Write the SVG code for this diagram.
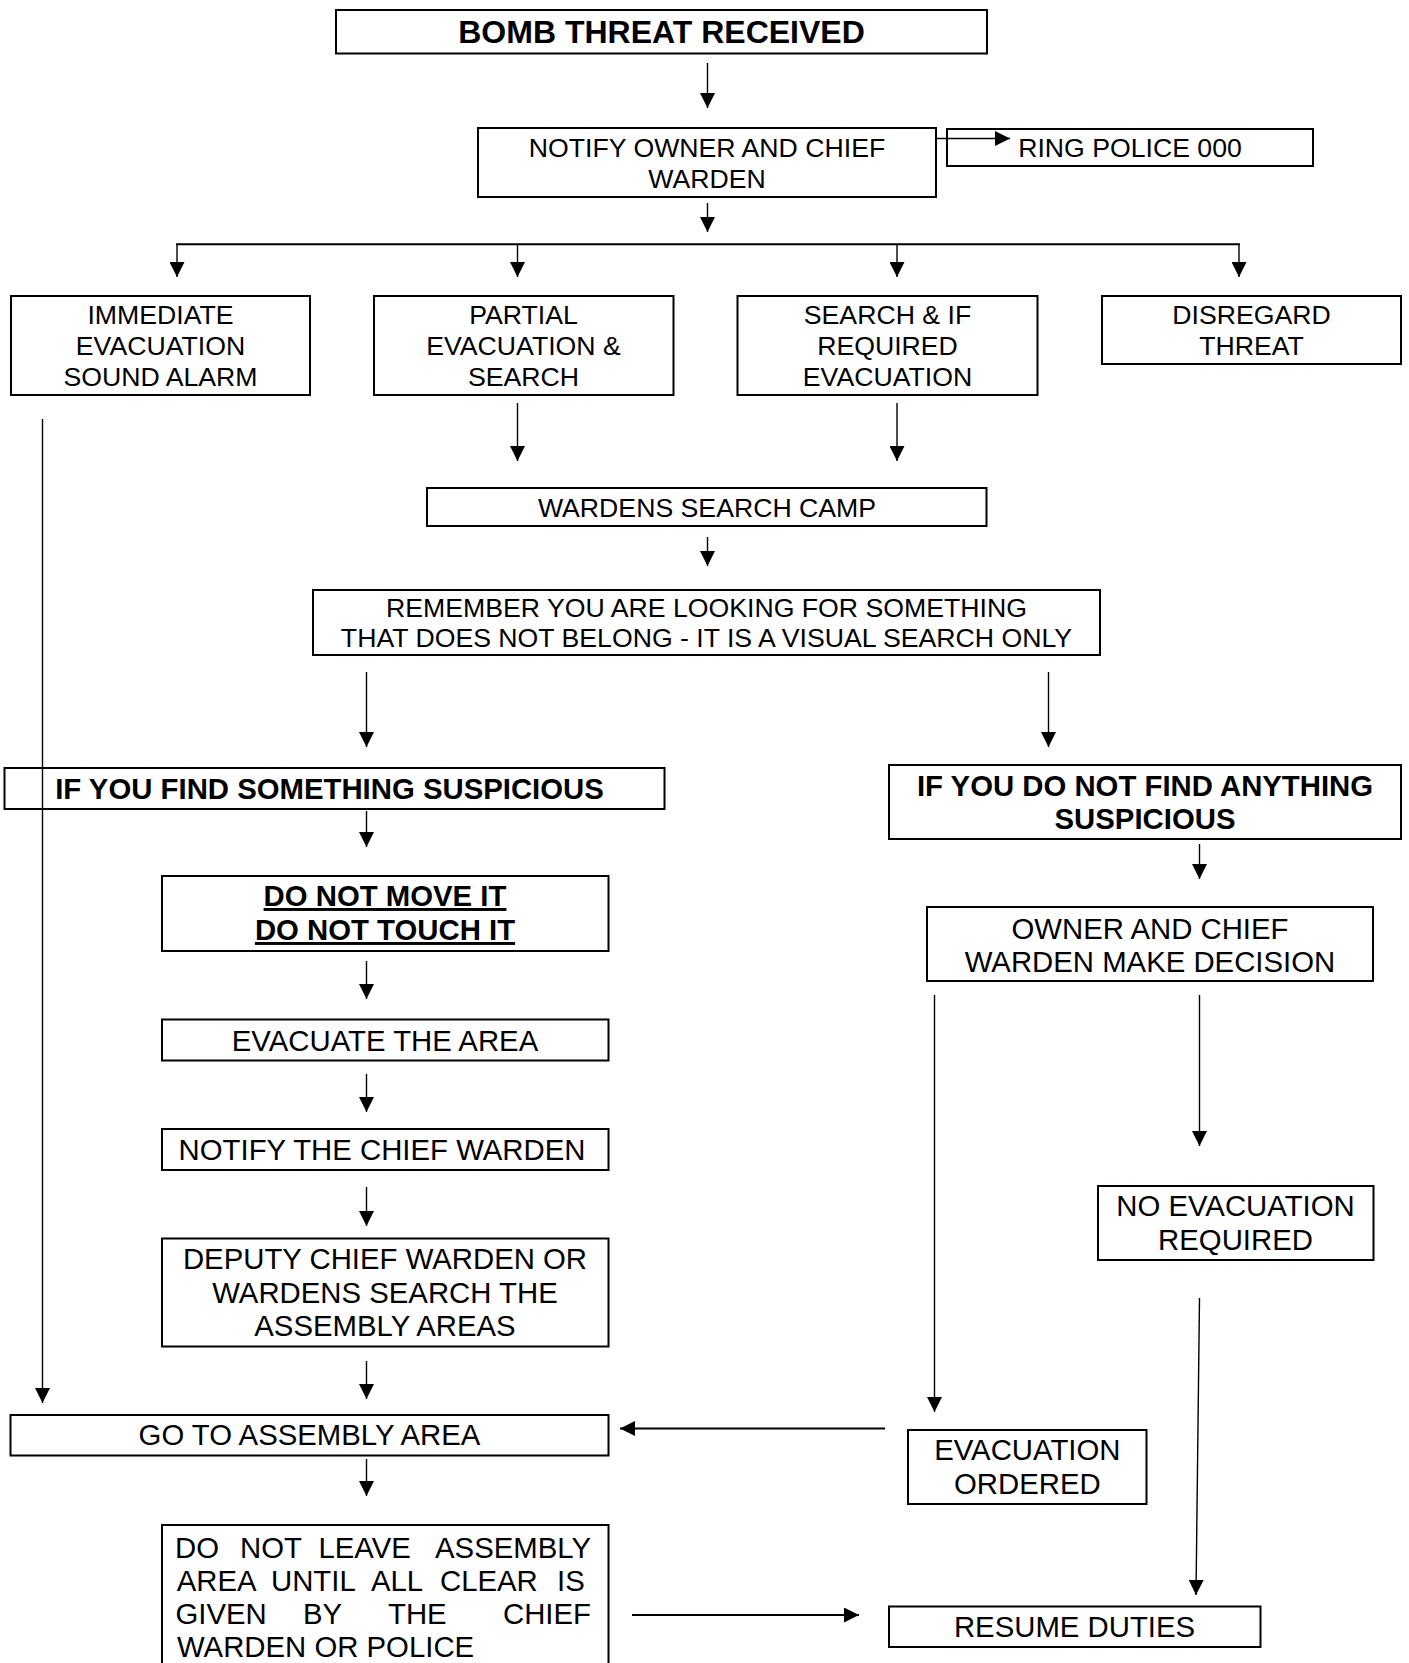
<svg xmlns="http://www.w3.org/2000/svg" width="1409" height="1663" viewBox="0 0 1409 1663">
<defs>
<marker id="ah" markerWidth="15" markerHeight="15" refX="15" refY="7.5" orient="auto" markerUnits="userSpaceOnUse">
<path d="M0,0 L15,7.5 L0,15 z" fill="#000"/>
</marker>
<style>
.box{fill:none;stroke:#000;stroke-width:2}
.c{fill:none;stroke:#000;stroke-width:1.4;marker-end:url(#ah)}
.c2{fill:none;stroke:#000;stroke-width:2.2;marker-end:url(#ah)}
.ln{fill:none;stroke:#000;stroke-width:2}
text{font-family:"Liberation Sans",Arial,sans-serif;fill:#000}
.t1{font-size:32px;font-weight:bold;text-anchor:middle}
.s{font-size:26.67px;text-anchor:middle}
.m{font-size:29.33px;text-anchor:middle}
.b{font-size:29.33px;font-weight:bold;text-anchor:middle}
.j{font-size:29.33px}
.je{font-size:29.33px;text-anchor:end}
</style>
</defs>
<rect width="1409" height="1663" fill="#fff"/>

<g id="bomb-threat-received">
<rect class="box" x="336" y="10" width="651" height="43.5"/>
<text class="t1" x="661.5" y="43">BOMB THREAT RECEIVED</text>
</g>

<g id="notify-owner">
<rect class="box" x="478" y="128" width="458" height="69"/>
<text class="s" x="707" y="157">NOTIFY OWNER AND CHIEF</text>
<text class="s" x="707" y="187.5">WARDEN</text>
</g>

<g id="ring-police">
<rect class="box" x="947" y="129" width="366" height="37"/>
<text class="s" x="1130" y="157">RING POLICE 000</text>
</g>

<g id="immediate-evacuation">
<rect class="box" x="11" y="296" width="299" height="99"/>
<text class="s" x="160.5" y="323.5">IMMEDIATE</text>
<text class="s" x="160.5" y="354.5">EVACUATION</text>
<text class="s" x="160.5" y="385.5">SOUND ALARM</text>
</g>

<g id="partial-evacuation">
<rect class="box" x="374" y="296" width="299.5" height="99"/>
<text class="s" x="523.5" y="323.5">PARTIAL</text>
<text class="s" x="523.5" y="354.5">EVACUATION &amp;</text>
<text class="s" x="523.5" y="385.5">SEARCH</text>
</g>

<g id="search-if-required">
<rect class="box" x="737.5" y="296" width="300" height="99"/>
<text class="s" x="887.5" y="323.5">SEARCH &amp; IF</text>
<text class="s" x="887.5" y="354.5">REQUIRED</text>
<text class="s" x="887.5" y="385.5">EVACUATION</text>
</g>

<g id="disregard-threat">
<rect class="box" x="1102" y="296" width="299" height="68"/>
<text class="s" x="1251.5" y="323.5">DISREGARD</text>
<text class="s" x="1251.5" y="354.5">THREAT</text>
</g>

<g id="wardens-search-camp">
<rect class="box" x="427" y="488" width="559.5" height="38"/>
<text class="s" x="707" y="516.5">WARDENS SEARCH CAMP</text>
</g>

<g id="remember">
<rect class="box" x="313" y="590" width="787" height="65"/>
<text class="s" x="706.5" y="616.5">REMEMBER YOU ARE LOOKING FOR SOMETHING</text>
<text class="s" x="706.5" y="647">THAT DOES NOT BELONG - IT IS A VISUAL SEARCH ONLY</text>
</g>

<g id="find-suspicious">
<rect class="box" x="4.5" y="768" width="660" height="41"/>
<text class="b" x="329.5" y="798.5">IF YOU FIND SOMETHING SUSPICIOUS</text>
</g>

<g id="not-find-suspicious">
<rect class="box" x="889" y="765" width="512" height="74"/>
<text class="b" x="1145" y="796">IF YOU DO NOT FIND ANYTHING</text>
<text class="b" x="1145" y="829">SUSPICIOUS</text>
</g>

<g id="do-not-move">
<rect class="box" x="162" y="876" width="446.5" height="75"/>
<text class="b" x="385" y="906" text-decoration="underline">DO NOT MOVE IT</text>
<text class="b" x="385" y="940" text-decoration="underline">DO NOT TOUCH IT</text>
</g>

<g id="evacuate-area">
<rect class="box" x="162" y="1019.5" width="446.5" height="41"/>
<text class="m" x="385" y="1051">EVACUATE THE AREA</text>
</g>

<g id="notify-chief-warden">
<rect class="box" x="162" y="1129" width="446.5" height="41"/>
<text class="m" x="382" y="1160">NOTIFY THE CHIEF WARDEN</text>
</g>

<g id="deputy-search">
<rect class="box" x="162" y="1238.5" width="446.5" height="108"/>
<text class="m" x="385" y="1269">DEPUTY CHIEF WARDEN OR</text>
<text class="m" x="385" y="1302.5">WARDENS SEARCH THE</text>
<text class="m" x="385" y="1336">ASSEMBLY AREAS</text>
</g>

<g id="go-to-assembly">
<rect class="box" x="10.5" y="1415" width="598" height="40.5"/>
<text class="m" x="309.5" y="1445">GO TO ASSEMBLY AREA</text>
</g>

<g id="do-not-leave">
<rect class="box" x="162" y="1525" width="446.5" height="160"/>
<text class="j" x="175" y="1558">DO</text>
<text class="j" x="240" y="1558">NOT</text>
<text class="j" x="318.5" y="1558">LEAVE</text>
<text class="je" x="591" y="1558">ASSEMBLY</text>
<text class="j" x="176.7" y="1591">AREA</text>
<text class="j" x="271" y="1591">UNTIL</text>
<text class="j" x="371" y="1591">ALL</text>
<text class="j" x="440" y="1591">CLEAR</text>
<text class="j" x="557" y="1591">IS</text>
<text class="j" x="175.5" y="1624">GIVEN</text>
<text class="j" x="303" y="1624">BY</text>
<text class="j" x="388" y="1624">THE</text>
<text class="je" x="591" y="1624">CHIEF</text>
<text class="j" x="177" y="1657">WARDEN OR POLICE</text>
</g>

<g id="owner-decision">
<rect class="box" x="927" y="907" width="446" height="74"/>
<text class="m" x="1150" y="939">OWNER AND CHIEF</text>
<text class="m" x="1150" y="972">WARDEN MAKE DECISION</text>
</g>

<g id="no-evacuation">
<rect class="box" x="1098" y="1186" width="275.5" height="74"/>
<text class="m" x="1235.5" y="1216">NO EVACUATION</text>
<text class="m" x="1235.5" y="1249.5">REQUIRED</text>
</g>

<g id="evacuation-ordered">
<rect class="box" x="908" y="1430" width="238.5" height="74"/>
<text class="m" x="1027.3" y="1460">EVACUATION</text>
<text class="m" x="1027.3" y="1493.5">ORDERED</text>
</g>

<g id="resume-duties">
<rect class="box" x="889" y="1606.5" width="371.5" height="40.5"/>
<text class="m" x="1074.5" y="1636.5">RESUME DUTIES</text>
</g>

<g id="connectors">
<line class="c" x1="707.5" y1="63" x2="707.5" y2="108"/>
<line class="c" x1="936" y1="138.5" x2="1010" y2="138.5"/>
<line class="c" x1="707.5" y1="203" x2="707.5" y2="232"/>
<line class="ln" x1="176" y1="244.3" x2="1240" y2="244.3"/>
<line class="c" x1="177" y1="244" x2="177" y2="277"/>
<line class="c" x1="517.5" y1="244" x2="517.5" y2="277"/>
<line class="c" x1="897" y1="244" x2="897" y2="277"/>
<line class="c" x1="1239" y1="244" x2="1239" y2="277"/>
<line class="c" x1="517.5" y1="403" x2="517.5" y2="461"/>
<line class="c" x1="897" y1="403" x2="897" y2="461"/>
<line class="c" x1="42.5" y1="419" x2="42.5" y2="1403"/>
<line class="c" x1="707.5" y1="537" x2="707.5" y2="566"/>
<line class="c" x1="366.5" y1="672" x2="366.5" y2="747"/>
<line class="c" x1="1048.5" y1="672" x2="1048.5" y2="747"/>
<line class="c" x1="366.5" y1="811" x2="366.5" y2="847"/>
<line class="c" x1="1199.5" y1="844" x2="1199.5" y2="879"/>
<line class="c" x1="366.5" y1="961" x2="366.5" y2="999"/>
<line class="c" x1="366.5" y1="1074" x2="366.5" y2="1112"/>
<line class="c" x1="366.5" y1="1187" x2="366.5" y2="1226"/>
<line class="c" x1="366.5" y1="1361" x2="366.5" y2="1399"/>
<line class="c" x1="934.5" y1="995" x2="934.5" y2="1412"/>
<line class="c" x1="1199.5" y1="995" x2="1199.5" y2="1146"/>
<line class="c" x1="1199.5" y1="1298" x2="1196" y2="1595"/>
<line class="c2" x1="885" y1="1428.5" x2="620" y2="1428.5"/>
<line class="c" x1="366.5" y1="1459" x2="366.5" y2="1496"/>
<line class="c2" x1="632" y1="1615" x2="859" y2="1615"/>
</g>
</svg>
